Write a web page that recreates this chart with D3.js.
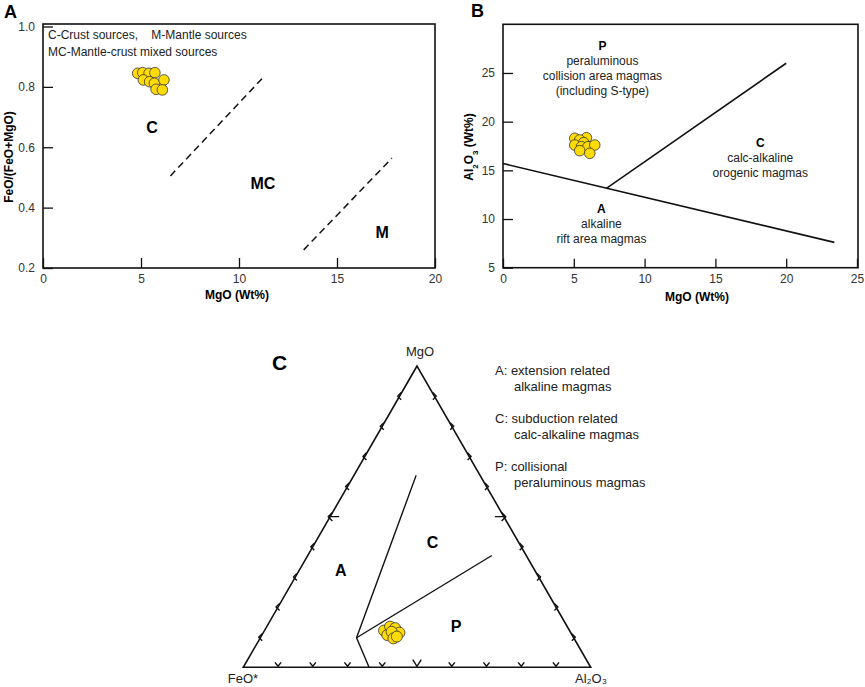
<!DOCTYPE html>
<html>
<head>
<meta charset="utf-8">
<script src="https://cdn.jsdelivr.net/npm/d3@7"></script>
<style>
  body { margin: 0; background: #fff; }
  svg { font-family: "Liberation Sans", Arial, sans-serif; }
</style>
</head>
<body>
<svg id="chart" width="865" height="687"></svg>
<script>
// panel A: MgO vs FeO/(FeO+MgO)
const aMgO = [4.83, 5.09, 5.41, 5.71, 5.12, 5.44, 5.68, 6.17, 5.77, 6.09];
const aRatio = [0.845, 0.847, 0.845, 0.847, 0.823, 0.817, 0.812, 0.823, 0.792, 0.79];
const aDashLines = [
  [[6.5, 0.505], [11.2, 0.829]],
  [[13.3, 0.26], [17.8, 0.564]],
];
const aRegions = ["C", "MC", "M"];
const aRegionPos = [[5.56, 0.667], [11.22, 0.482], [17.3, 0.319]];
const aXTicks = [0, 5, 10, 15, 20];
const aYTicks = [0.2, 0.4, 0.6, 0.8, 1.0];
const aNotes = ["C-Crust sources,    M-Mantle sources", "MC-Mantle-crust mixed sources"];

// panel B: MgO vs Al2O3
const bMgO = [5.07, 5.89, 5.42, 5.7, 5.07, 5.54, 6.0, 6.48, 5.42, 6.13];
const bAl2O3 = [18.29, 18.35, 18.12, 17.84, 17.6, 17.43, 17.43, 17.6, 17.02, 16.75];
const bLines = [
  [[0, 15.7], [23.4, 7.6]],
  [[7.3, 13.15], [20, 26]],
];
const bRegions = ["P", "C", "A"];
const bRegionPos = [[7.02, 27.8], [18.17, 17.88], [6.95, 11.1]];
const bRegionText = [
  ["peraluminous", "collision area magmas", "(including S-type)"],
  ["calc-alkaline", "orogenic magmas"],
  ["alkaline", "rift area magmas"],
];
const bXTicks = [0, 5, 10, 15, 20, 25];
const bYTicks = [5, 10, 15, 20, 25];

// panel C: ternary MgO - FeO* - Al2O3 (percent MgO, percent Al2O3)
const cMgO = [12.2, 13.5, 13.0, 11.5, 10.7, 11.8, 9.6, 10.2];
const cAl2O3 = [34.4, 35.5, 37.2, 39.2, 36.1, 36.8, 38.4, 39.1];
const cBoundaries = [
  [[63.7, 17.9], [9.8, 27.7], [0, 36.2]],
  [[9.8, 27.7], [37.1, 53.0]],
];
const cRegions = ["A", "C", "P"];
const cRegionPos = [[32.3, 11.9], [41.5, 33.7], [13.5, 54.5]];
const cTickSteps = [10, 20, 30, 40, 50, 60, 70, 80, 90];
const cLegend = [
  ["A: extension related", "alkaline magmas"],
  ["C: subduction related", "calc-alkaline magmas"],
  ["P: collisional", "peraluminous magmas"],
];

const svg = d3.select("#chart");
const yellow = "#ffdb00";

function styleAxis(g) {
  g.select(".domain").remove();
  g.selectAll(".tick line").attr("stroke", "#111").attr("stroke-width", 1.3);
  g.selectAll(".tick text").attr("fill", "#333").style("font-size", "12px");
}

// ---------- A ----------
const xA = d3.scaleLinear().domain([0, 20]).range([43, 435]);
const yA = d3.scaleLinear().domain([0.2, 1]).range([268, 26.5]);

svg.append("text").attr("x", 4).attr("y", 18).text("A")
  .style("font-size", "18px").style("font-weight", "bold");

svg.append("g").attr("transform", "translate(0,268)")
  .call(d3.axisBottom(xA).tickValues(aXTicks).tickSizeInner(-10).tickSizeOuter(0).tickPadding(6))
  .call(styleAxis);
svg.append("g").attr("transform", "translate(43,0)")
  .call(d3.axisLeft(yA).tickValues(aYTicks).tickFormat(d3.format(".1f")).tickSizeInner(-10).tickSizeOuter(0).tickPadding(8))
  .call(styleAxis);

svg.append("rect").attr("x", 43).attr("y", 24).attr("width", 392).attr("height", 244)
  .attr("fill", "none").attr("stroke", "#111").attr("stroke-width", 1.6);

svg.append("text").attr("x", 237).attr("y", 299).attr("text-anchor", "middle")
  .style("font-size", "12px").style("font-weight", "bold").text("MgO (Wt%)");
svg.append("text").attr("transform", "translate(13,157) rotate(-90)").attr("text-anchor", "middle")
  .style("font-size", "12px").style("font-weight", "bold").text("FeO/(FeO+MgO)");

aNotes.forEach((t, i) => {
  svg.append("text").attr("x", 48).attr("y", 39 + i * 17).style("font-size", "12px")
    .attr("fill", "#222").style("white-space", "pre").text(t);
});

const lineA = d3.line().x((d) => xA(d[0])).y((d) => yA(d[1]));
svg.append("g").selectAll("path").data(aDashLines).join("path")
  .attr("d", lineA).attr("fill", "none").attr("stroke", "#111")
  .attr("stroke-width", 1.5).attr("stroke-dasharray", "7,4.5");

svg.append("g").selectAll("text").data(aRegions).join("text")
  .attr("x", (d, i) => xA(aRegionPos[i][0])).attr("y", (d, i) => yA(aRegionPos[i][1]))
  .attr("dy", "0.36em").attr("text-anchor", "middle")
  .style("font-size", "16px").style("font-weight", "bold").text((d) => d);

svg.append("g").selectAll("circle").data(aMgO).join("circle")
  .attr("cx", (d) => xA(d)).attr("cy", (d, i) => yA(aRatio[i])).attr("r", 5.3)
  .attr("fill", yellow).attr("stroke", "#333").attr("stroke-width", 0.8);

// ---------- B ----------
const xB = d3.scaleLinear().domain([0, 25]).range([503, 857]);
const yB = d3.scaleLinear().domain([5, 30]).range([267.7, 24.3]);

svg.append("text").attr("x", 471).attr("y", 17).text("B")
  .style("font-size", "18px").style("font-weight", "bold");

svg.append("g").attr("transform", "translate(0,267.7)")
  .call(d3.axisBottom(xB).tickValues(bXTicks).tickSizeInner(-9).tickSizeOuter(0).tickPadding(7))
  .call(styleAxis);
svg.append("g").attr("transform", "translate(503,0)")
  .call(d3.axisLeft(yB).tickValues(bYTicks).tickSizeInner(-10).tickSizeOuter(0).tickPadding(8))
  .call(styleAxis);

svg.append("rect").attr("x", 503).attr("y", 24.3).attr("width", 355).attr("height", 243.4)
  .attr("fill", "none").attr("stroke", "#111").attr("stroke-width", 1.6);

svg.append("text").attr("x", 697).attr("y", 301).attr("text-anchor", "middle")
  .style("font-size", "12px").style("font-weight", "bold").text("MgO (Wt%)");
const yTitleB = svg.append("text").attr("transform", "translate(473,147) rotate(-90)")
  .attr("text-anchor", "middle").style("font-size", "12px").style("font-weight", "bold");
yTitleB.append("tspan").text("Al");
yTitleB.append("tspan").attr("baseline-shift", "sub").style("font-size", "8px").text("2");
yTitleB.append("tspan").text("O");
yTitleB.append("tspan").attr("baseline-shift", "sub").style("font-size", "8px").text("3");
yTitleB.append("tspan").text(" (Wt%)");

const lineB = d3.line().x((d) => xB(d[0])).y((d) => yB(d[1]));
svg.append("g").selectAll("path").data(bLines).join("path")
  .attr("d", lineB).attr("fill", "none").attr("stroke", "#111").attr("stroke-width", 1.6);

bRegions.forEach((r, i) => {
  const cx = xB(bRegionPos[i][0]);
  const cy = yB(bRegionPos[i][1]);
  svg.append("text").attr("x", cx).attr("y", cy).attr("dy", "0.36em").attr("text-anchor", "middle")
    .style("font-size", "12px").style("font-weight", "bold").text(r);
  bRegionText[i].forEach((t, j) => {
    svg.append("text").attr("x", cx).attr("y", cy + 15 * (j + 1)).attr("dy", "0.36em")
      .attr("text-anchor", "middle").attr("fill", "#222").style("font-size", "12px").text(t);
  });
});

svg.append("g").selectAll("circle").data(bMgO).join("circle")
  .attr("cx", (d) => xB(d)).attr("cy", (d, i) => yB(bAl2O3[i])).attr("r", 5.3)
  .attr("fill", yellow).attr("stroke", "#333").attr("stroke-width", 0.8);

// ---------- C (ternary) ----------
const xT = d3.scaleLinear().domain([0, 100]).range([243.3, 590.7]);
const yT = d3.scaleLinear().domain([0, 100]).range([667.3, 366]);
const tern = (m, a) => [xT(a + m / 2), yT(m)];

svg.append("text").attr("x", 272).attr("y", 370).text("C")
  .style("font-size", "21px").style("font-weight", "bold");

svg.append("path")
  .attr("d", d3.line()([tern(100, 0), tern(0, 0), tern(0, 100)]) + "Z")
  .attr("fill", "none").attr("stroke", "#111").attr("stroke-width", 1.6);

// chevron ticks along each side
const tickPath = (v, dir, L, spread, tail) => {
  const ang = (spread * Math.PI) / 180;
  const base = Math.atan2(dir[1], dir[0]);
  const p1 = [v[0] + L * Math.cos(base + ang), v[1] + L * Math.sin(base + ang)];
  const p2 = [v[0] + L * Math.cos(base - ang), v[1] + L * Math.sin(base - ang)];
  let d = `M${p1}L${v}L${p2}`;
  if (tail) d += `M${v}L${[v[0] + tail * dir[0], v[1] + tail * dir[1]]}`;
  return d;
};
const tickG = svg.append("g").attr("fill", "none").attr("stroke", "#111")
  .attr("stroke-width", 1.4).attr("stroke-linejoin", "round");
cTickSteps.forEach((s) => {
  const big = s === 50;
  const pl = tern(s, 0);
  tickG.append("path").attr("d", tickPath([pl[0] - 2, pl[1]], [1, 0], big ? 6 : 5, 45, big ? 11 : 0));
  const pr = tern(s, 100 - s);
  tickG.append("path").attr("d", tickPath([pr[0] + 2, pr[1]], [-1, 0], big ? 6 : 5, 45, big ? 11 : 0));
  const pb = tern(0, s);
  tickG.append("path").attr("d", tickPath([pb[0], pb[1] - 1], [0, -1], big ? 8 : 5, big ? 32 : 38, 0));
});

svg.append("g").selectAll("path").data(cBoundaries).join("path")
  .attr("d", (d) => d3.line()(d.map((p) => tern(p[0], p[1]))))
  .attr("fill", "none").attr("stroke", "#111").attr("stroke-width", 1.4);

svg.append("g").selectAll("text").data(cRegions).join("text")
  .attr("x", (d, i) => tern(cRegionPos[i][0], cRegionPos[i][1])[0])
  .attr("y", (d, i) => tern(cRegionPos[i][0], cRegionPos[i][1])[1])
  .attr("dy", "0.36em").attr("text-anchor", "middle")
  .style("font-size", "16px").style("font-weight", "bold").text((d) => d);

svg.append("g").selectAll("circle").data(cMgO).join("circle")
  .attr("cx", (d, i) => tern(d, cAl2O3[i])[0]).attr("cy", (d, i) => tern(d, cAl2O3[i])[1]).attr("r", 5.5)
  .attr("fill", yellow).attr("stroke", "#333").attr("stroke-width", 0.8);

svg.append("text").attr("x", 420).attr("y", 356).attr("text-anchor", "middle")
  .attr("fill", "#222").style("font-size", "13px").text("MgO");
svg.append("text").attr("x", 243).attr("y", 683).attr("text-anchor", "middle")
  .attr("fill", "#222").style("font-size", "13px").text("FeO*");
svg.append("text").attr("x", 591).attr("y", 683).attr("text-anchor", "middle")
  .attr("fill", "#222").style("font-size", "13px").text("Al₂O₃");

cLegend.forEach((pair, i) => {
  svg.append("text").attr("x", 495).attr("y", 375 + i * 48).attr("fill", "#222")
    .style("font-size", "13px").text(pair[0]);
  svg.append("text").attr("x", 514).attr("y", 391 + i * 48).attr("fill", "#222")
    .style("font-size", "13px").text(pair[1]);
});
</script>
</body>
</html>
